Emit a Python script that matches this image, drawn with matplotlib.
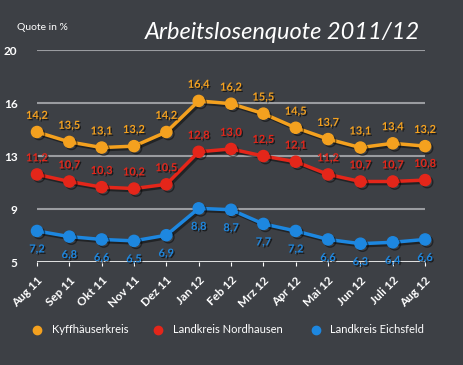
import matplotlib
matplotlib.use("Agg")
import matplotlib.pyplot as plt
import matplotlib.patheffects as pe

plt.rcParams['font.family'] = ['Lato', 'DejaVu Sans']

monate = ["Aug 11", "Sep 11", "Okt 11", "Nov 11", "Dez 11", "Jan 12", "Feb 12",
          "Mrz 12", "Apr 12", "Mai 12", "Jun 12", "Juli 12", "Aug 12"]
kyffhaeuser = [14.2, 13.5, 13.1, 13.2, 14.2, 16.4, 16.2, 15.5, 14.5, 13.7, 13.1, 13.4, 13.2]
nordhausen = [11.2, 10.7, 10.3, 10.2, 10.5, 12.8, 13.0, 12.5, 12.1, 11.2, 10.7, 10.7, 10.8]
eichsfeld = [7.2, 6.8, 6.6, 6.5, 6.9, 8.8, 8.7, 7.7, 7.2, 6.6, 6.3, 6.4, 6.6]
y_ticks = [5, 8.75, 12.5, 16.25, 20]
y_labels = ["5", "9", "13", "16", "20"]

bg = "#3d4045"
fig = plt.figure(figsize=(4.64, 3.65), dpi=100, facecolor=bg)
ax = fig.add_axes([0.0797, 0.282, 0.8365, 0.581])
ax.set_facecolor(bg)

linien_schatten = [pe.SimpleLineShadow(offset=(1.5, -1.5), shadow_color="black", alpha=0.45), pe.Normal()]
text_schatten = [pe.withSimplePatchShadow(offset=(1, -1), shadow_rgbFace="black", alpha=0.6)]

for y in y_ticks[1:]:
    ax.axhline(y, color="#9a9ca0", lw=1.5, zorder=1)
ax.axhline(5, color="white", lw=1.2, zorder=1)

x = list(range(len(monate)))
reihen = [
    (kyffhaeuser, "#f4a11f", "Kyffhäuserkreis", 1),
    (nordhausen, "#e4261a", "Landkreis Nordhausen", 1),
    (eichsfeld, "#1d87e0", "Landkreis Eichsfeld", -1),
]
for werte, farbe, name, seite in reihen:
    ax.plot(x, werte, color=farbe, lw=2.5, marker="o", ms=8, clip_on=False,
            zorder=3, path_effects=linien_schatten)
    for xi, v in zip(x, werte):
        off = 8 if seite > 0 else -9
        ax.annotate(f"{v:.1f}".replace(".", ","), (xi, v), xytext=(0, off),
                    textcoords="offset points", ha="center",
                    va="bottom" if seite > 0 else "top",
                    color=farbe, fontsize=8, fontweight="bold",
                    path_effects=text_schatten, zorder=4)

ax.set_xlim(0, 12)
ax.set_ylim(5, 20)
ax.set_xticks(x)
ax.set_xticklabels(monate, rotation=45, ha="right", rotation_mode="anchor",
                   color="white", fontsize=8.5, fontweight="bold")
ax.tick_params(axis="x", length=3, color="white", pad=6)
ax.set_yticks(y_ticks)
ax.set_yticklabels(y_labels, color="white", fontsize=8.5, fontweight="bold")
ax.tick_params(axis="y", length=0, pad=14)
for s in ax.spines.values():
    s.set_visible(False)

fig.text(0.037, 0.918, "Quote in %", color="white", fontsize=7.5)
fig.text(0.905, 0.912, "Arbeitslosenquote 2011/12", color="white", fontsize=17,
         style="italic", ha="right", va="center")

leg_x = [0.08, 0.34, 0.68]
for lx, (werte, farbe, name, seite) in zip(leg_x, reihen):
    fig.lines.append(plt.Line2D([lx], [0.097], marker="o", ms=6, color=farbe,
                                transform=fig.transFigure))
    fig.text(lx + 0.032, 0.097, name, color="white", fontsize=8, va="center")

fig.savefig("out.png", dpi=100, facecolor=bg)
